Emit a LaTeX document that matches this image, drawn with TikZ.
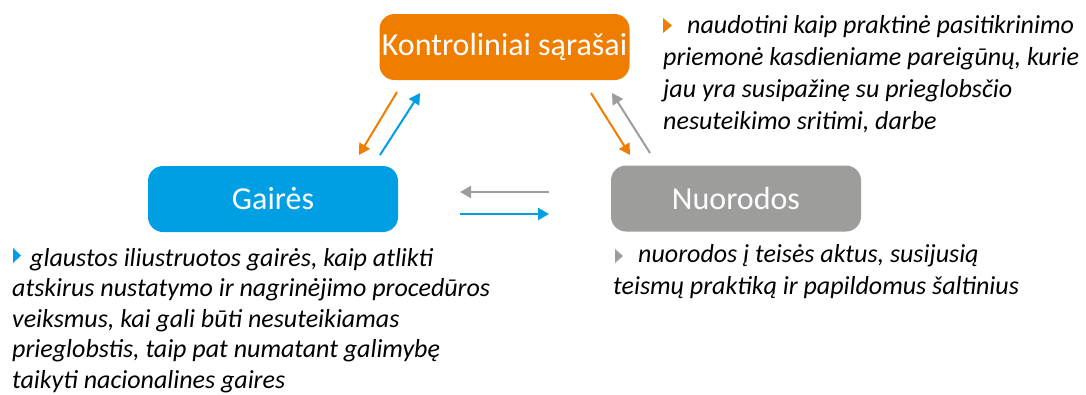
\documentclass[tikz,border=0pt]{standalone}
\usepackage{fontspec}
\setmainfont{Carlito}
\usetikzlibrary{arrows.meta}

\definecolor{korange}{RGB}{239,125,0}
\definecolor{kblue}{RGB}{0,159,227}
\definecolor{kgray}{RGB}{157,157,156}

\tikzset{
  box/.style={rounded corners=15pt, inner sep=0pt, minimum width=250pt,
    minimum height=66pt, text=white, font=\fontsize{32}{36}\selectfont},
  arr/.style={-{Triangle[length=11pt,width=12pt]}, line width=2pt},
  desc/.style={anchor=base west, inner sep=0pt, align=left,
    font=\fontsize{26}{32}\selectfont\itshape},
}

\begin{document}
\begin{tikzpicture}[x=1pt,y=-1pt]
  \useasboundingbox (0,0) rectangle (1086,394);

  % boxes
  \node[box, fill=korange] (kontr) at (504.5,47) {Kontroliniai sąrašai};
  \node[box, fill=kblue] (gaires) at (273,199) {Gairės};
  \node[box, fill=kgray] (nuor) at (736,198.5) {Nuorodos};

  % arrow ends
  \coordinate (kg1) at (397,92);  \coordinate (kg2) at (359,155);
  \coordinate (gk1) at (380,155); \coordinate (gk2) at (420,93);
  \coordinate (kn1) at (591,93);  \coordinate (kn2) at (630,155);
  \coordinate (nk1) at (650,153); \coordinate (nk2) at (612,93);
  \coordinate (ng1) at (549,192); \coordinate (ng2) at (460,192);
  \coordinate (gn1) at (460,214); \coordinate (gn2) at (549,214);

  \draw[arr, korange] (kg1) -- (kg2);
  \draw[arr, kblue] (gk1) -- (gk2);
  \draw[arr, korange] (kn1) -- (kn2);
  \draw[arr, kgray] (nk1) -- (nk2);
  \draw[arr, kgray] (ng1) -- (ng2);
  \draw[arr, kblue] (gn1) -- (gn2);

  % bullets
  \fill[korange] (663,18) -- (672,25.5) -- (663,33) -- cycle;
  \fill[kblue] (13,248) -- (21,255.5) -- (13,263) -- cycle;
  \fill[kgray] (615,249) -- (623,256) -- (615,263) -- cycle;

  % descriptions (anchored at the last line's baseline)
  \node[desc] (kontrtxt) at (663,129) {\hspace*{24pt}naudotini kaip praktinė pasitikrinimo\\
    priemonė kasdieniame pareigūnų, kurie\\
    jau yra susipažinę su prieglobsčio\\
    nesuteikimo sritimi, darbe};
  \node[desc, font=\fontsize{26}{30.5}\selectfont\itshape] (gairestxt) at (12,388)
    {\hspace*{18pt}glaustos iliustruotos gairės, kaip atlikti\\
    atskirus nustatymo ir nagrinėjimo procedūros\\
    veiksmus, kai gali būti nesuteikiamas\\
    prieglobstis, taip pat numatant galimybę\\
    taikyti nacionalines gaires};
  \node[desc] (nuortxt) at (613,294) {\hspace*{25pt}nuorodos į teisės aktus, susijusią\\
    teismų praktiką ir papildomus šaltinius};
\end{tikzpicture}
\end{document}
